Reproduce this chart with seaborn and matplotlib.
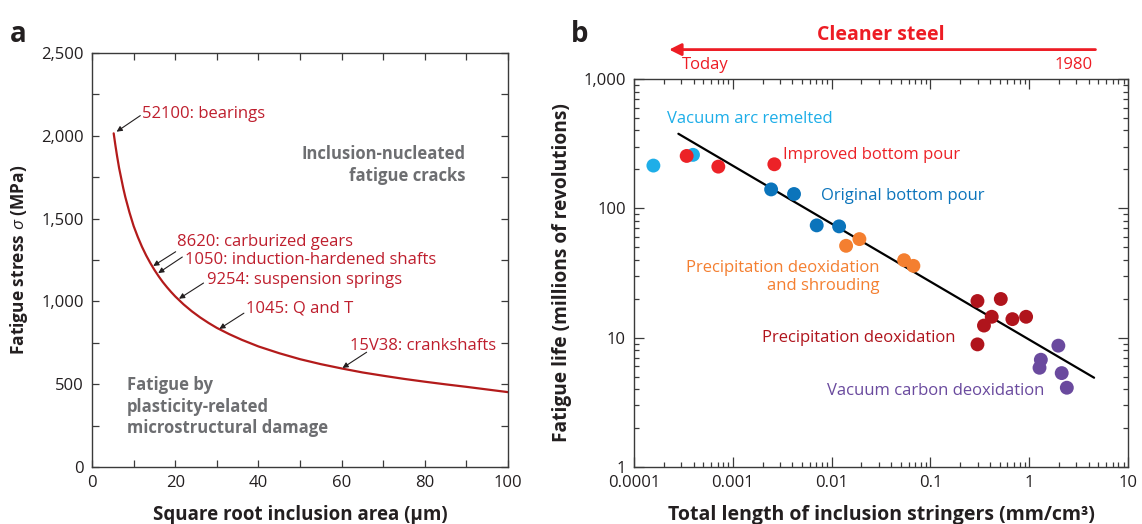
import numpy as np
import pandas as pd
import matplotlib
matplotlib.use("Agg")
import matplotlib.pyplot as plt
import seaborn as sns
from matplotlib.ticker import FixedLocator, FuncFormatter, LogLocator, NullFormatter

# ---------------- Panel a data ----------------
root_area_um = [5.2, 5.6, 6, 6.5, 7, 7.5, 8, 9, 10, 11, 12, 13, 14, 15, 16, 17, 18, 19, 20,
                22, 24, 26, 28, 30, 33, 36, 40, 45, 50, 55, 60, 65, 70, 75, 80, 85, 90, 95, 100]
fatigue_stress_mpa = [2015, 1945, 1880, 1806, 1745, 1684, 1630, 1537, 1455, 1389, 1330, 1278,
                      1232, 1190, 1152, 1117, 1086, 1057, 1030, 982, 940, 903, 870, 840, 802,
                      768, 728, 687, 651, 621, 595, 571, 551, 532, 515, 499, 484, 468, 452]
steel_labels = ["52100: bearings", "8620: carburized gears", "1050: induction-hardened shafts",
                "9254: suspension springs", "1045: Q and T", "15V38: crankshafts"]
a_xticks = [0, 20, 40, 60, 80, 100]
a_yticks = [0, 500, 1000, 1500, 2000, 2500]

# ---------------- Panel b data ----------------
var_x = [1.57e-4, 3.95e-4]
var_y = [214, 259]
ibp_x = [3.41e-4, 7.13e-4, 2.63e-3]
ibp_y = [254, 210, 219]
obp_x = [2.44e-3, 4.16e-3, 7.06e-3, 0.0119]
obp_y = [140, 129, 73.8, 72.5]
pds_x = [0.0140, 0.0191, 0.0541, 0.0672]
pds_y = [51.3, 57.8, 39.7, 35.9]
pd_x = [0.299, 0.515, 0.417, 0.348, 0.675, 0.929, 0.299]
pd_y = [19.2, 19.9, 14.5, 12.4, 13.9, 14.5, 8.87]
vcd_x = [1.97, 1.31, 1.27, 2.13, 2.40]
vcd_y = [8.67, 6.75, 5.85, 5.32, 4.10]
fit_x = [2.81e-4, 4.53]
fit_y = [377, 4.9]
group_names = ["Vacuum arc remelted", "Improved bottom pour", "Original bottom pour",
               "Precipitation deoxidation\nand shrouding", "Precipitation deoxidation",
               "Vacuum carbon deoxidation"]
b_xticks = [1e-4, 1e-3, 1e-2, 1e-1, 1, 10]
b_xticklabels = ["0.0001", "0.001", "0.01", "0.1", "1", "10"]
b_yticks = [1, 10, 100, 1000]
b_yticklabels = ["1", "10", "100", "1,000"]

colors = ["#1eaee8", "#ec2227", "#0b74bb", "#f47f30", "#b0141c", "#6a4a9e"]

# ---------------- style ----------------
sns.set_theme(style="ticks")
FONT = "Open Sans"
plt.rcParams["font.family"] = [FONT, "DejaVu Sans"]
plt.rcParams["mathtext.fontset"] = "custom"
plt.rcParams["mathtext.it"] = FONT + ":italic"
plt.rcParams["mathtext.rm"] = FONT
TXT = "#231f20"
SPINE = "#3a3a3a"

fig = plt.figure(figsize=(11.42, 5.24), dpi=100)
ax_a = fig.add_axes([0.0806, 0.1088, 0.3643, 0.790])
ax_b = fig.add_axes([0.5552, 0.1088, 0.4326, 0.7405])

# ---------------- Panel a ----------------
df_a = pd.DataFrame({"x": root_area_um, "y": fatigue_stress_mpa})
sns.lineplot(data=df_a, x="x", y="y", ax=ax_a, color="#b31b1b", lw=1.6)
ax_a.set_xlim(0, 100)
ax_a.set_ylim(0, 2500)
ax_a.xaxis.set_major_locator(FixedLocator(a_xticks))
ax_a.xaxis.set_minor_locator(FixedLocator([10, 30, 50, 70, 90]))
ax_a.yaxis.set_major_locator(FixedLocator(a_yticks))
ax_a.yaxis.set_minor_locator(FixedLocator([250, 750, 1250, 1750, 2250]))
ax_a.yaxis.set_major_formatter(FuncFormatter(lambda v, p: f"{v:,.0f}"))
ax_a.set_xlabel("Square root inclusion area (µm)", fontsize=13.5, fontweight="bold", color=TXT, labelpad=10)
ax_a.set_ylabel("Fatigue stress $\\sigma$ (MPa)", fontsize=12.5, fontweight="bold", color=TXT, labelpad=8)

LBL = "#be1e2d"
ann_a = [  # text pos, arrow tail, arrow tip
    ((11.9, 2134), (11.6, 2122), (5.9, 2025)),
    ((20.5, 1361), (20.1, 1300), (14.7, 1214)),
    ((22.4, 1252), (21.7, 1268), (15.9, 1171)),
    ((27.6, 1127), (26.8, 1111), (20.9, 1016)),
    ((36.9, 955), (36.5, 929), (30.6, 834)),
    ((61.9, 730), (66.0, 693), (60.2, 598)),
]
for lab, (tp, tail, tip) in zip(steel_labels, ann_a):
    ax_a.text(tp[0], tp[1], lab, color=LBL, fontsize=12, ha="left", va="center")
    ax_a.annotate("", xy=tip, xytext=tail,
                  arrowprops=dict(arrowstyle="-|>", lw=0.8, color=TXT, mutation_scale=8,
                                  shrinkA=0, shrinkB=0))
GRAY = "#6d6e71"
ax_a.text(89.7, 1825, "Inclusion-nucleated\nfatigue cracks", color=GRAY, fontsize=12,
          fontweight="bold", ha="right", va="center", multialignment="right", linespacing=1.25)
ax_a.text(8.4, 364, "Fatigue by\nplasticity-related\nmicrostructural damage", color=GRAY,
          fontsize=12, fontweight="bold", ha="left", va="center", linespacing=1.25)

# ---------------- Panel b ----------------
rows = []
for g, xs, ys in zip(group_names, [var_x, ibp_x, obp_x, pds_x, pd_x, vcd_x],
                     [var_y, ibp_y, obp_y, pds_y, pd_y, vcd_y]):
    for xv, yv in zip(xs, ys):
        rows.append({"x": xv, "y": yv, "group": g})
df_b = pd.DataFrame(rows)
sns.lineplot(x=fit_x, y=fit_y, ax=ax_b, color="black", lw=1.6)
sns.scatterplot(data=df_b, x="x", y="y", hue="group", palette=dict(zip(group_names, colors)),
                s=100, edgecolor="none", ax=ax_b, legend=False, zorder=3)
ax_b.set_xscale("log")
ax_b.set_yscale("log")
ax_b.set_xlim(1e-4, 10)
ax_b.set_ylim(1, 1000)
ax_b.xaxis.set_major_locator(FixedLocator(b_xticks))
ax_b.xaxis.set_major_formatter(FuncFormatter(lambda v, p: dict(zip(b_xticks, b_xticklabels)).get(v, "")))
ax_b.xaxis.set_minor_locator(LogLocator(base=10, subs=np.arange(2, 10), numticks=20))
ax_b.xaxis.set_minor_formatter(NullFormatter())
ax_b.yaxis.set_major_locator(FixedLocator(b_yticks))
ax_b.yaxis.set_major_formatter(FuncFormatter(lambda v, p: dict(zip(b_yticks, b_yticklabels)).get(v, "")))
ax_b.yaxis.set_minor_locator(LogLocator(base=10, subs=np.arange(2, 10), numticks=20))
ax_b.yaxis.set_minor_formatter(NullFormatter())
ax_b.set_xlabel("Total length of inclusion stringers (mm/cm³)", fontsize=14, fontweight="bold",
                color=TXT, labelpad=10)
ax_b.set_ylabel("Fatigue life (millions of revolutions)", fontsize=13.8, fontweight="bold",
                color=TXT, labelpad=8)

lab_pos = [(2.16e-4, 492, "left"), (3.24e-3, 257, "left"), (7.76e-3, 124, "left"),
           (0.0304, 29.5, "right"), (1.98e-3, 10, "left"), (8.97e-3, 3.9, "left")]
for g, c, (xp, yp, ha) in zip(group_names, colors, lab_pos):
    ax_b.text(xp, yp, g, color=c, fontsize=12, ha=ha, va="center", multialignment=ha,
              linespacing=1.15)

RED = "#ed1c24"
ax_b.text(0.5004, 1.1145, "Cleaner steel", transform=ax_b.transAxes, color=RED, fontsize=14,
          fontweight="bold", ha="center", va="center", clip_on=False)
ax_b.annotate("", xy=(0.071, 1.0757), xytext=(0.934, 1.0757), xycoords="axes fraction",
              textcoords="axes fraction",
              arrowprops=dict(arrowstyle="-|>", lw=2.0, color=RED, mutation_scale=18,
                              shrinkA=0, shrinkB=0))
ax_b.text(0.0976, 1.037, "Today", transform=ax_b.transAxes, color=RED, fontsize=12,
          ha="left", va="center")
ax_b.text(0.929, 1.037, "1980", transform=ax_b.transAxes, color=RED, fontsize=12,
          ha="right", va="center")

# ---------------- shared axis styling ----------------
for ax in (ax_a, ax_b):
    for sp in ax.spines.values():
        sp.set_visible(True)
        sp.set_color(SPINE)
        sp.set_linewidth(1.0)
    ax.tick_params(which="both", direction="in", top=True, right=True, color=SPINE,
                   labelcolor=TXT, labelsize=12, width=0.9)
ax_a.tick_params(which="both", length=5, pad=6)
ax_b.tick_params(which="major", length=7, pad=6)
ax_b.tick_params(which="minor", length=3.5)

fig.text(0.009, 0.935, "a", fontsize=20, fontweight="bold", color=TXT, va="center")
fig.text(0.500, 0.935, "b", fontsize=20, fontweight="bold", color=TXT, va="center")

fig.savefig("out.png", dpi=100)
